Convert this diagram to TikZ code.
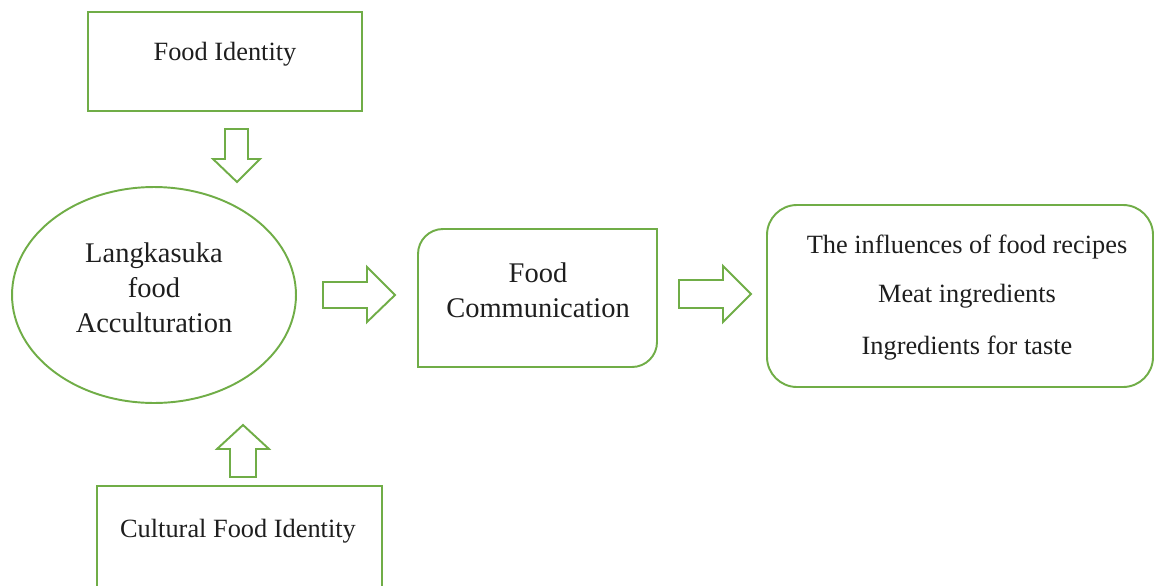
\documentclass[tikz,border=0pt]{standalone}
\usepackage{fontspec}
\setmainfont{Liberation Serif}
\usetikzlibrary{shapes.geometric}
\definecolor{boxgreen}{RGB}{112,173,71}
\definecolor{txt}{RGB}{30,30,30}
\tikzset{
  gline/.style={draw=boxgreen, line width=1.1pt},
  blockarrow/.style={draw=boxgreen, line width=1.1pt, line join=miter},
  lbl/.style={text=txt, inner sep=0pt, align=center},
  lblA/.style={lbl, font=\fontsize{15}{18}\selectfont},
  lblB/.style={lbl, font=\fontsize{16.2}{19.8}\selectfont},
}
\begin{document}
\begin{tikzpicture}[x=0.02cm, y=-0.02cm]
\useasboundingbox (0,0) rectangle (1155,585);
\clip (0,0) rectangle (1155,585);
% Food Identity
\node[gline, rectangle, minimum width=5.48cm, minimum height=1.98cm, inner sep=0pt] (fi) at (225,61.5) {};
\node[lblA] (fit) at (225,54) {Food Identity};
% down arrow
\draw[blockarrow] (225,129) -- (248,129) -- (248,159) -- (260,159) -- (237,182) -- (213,159) -- (225,159) -- cycle;
% Ellipse
\node[gline, ellipse, minimum width=5.68cm, minimum height=4.32cm, inner sep=0pt] (acc) at (154,295) {};
\node[lblB] (acct) at (154,288) {Langkasuka\\food\\Acculturation};
% right arrow 1
\draw[blockarrow] (323,282) -- (367,282) -- (367,267) -- (395,295) -- (367,322) -- (367,308) -- (323,308) -- cycle;
% Food Communication
\draw[gline] (418,367) -- (418,254) arc[start angle=180, end angle=270, radius=25] -- (657,229) -- (657,342) arc[start angle=0, end angle=90, radius=25] -- cycle;
\coordinate (fc) at (537.5,298);
\node[lblB] (fct) at (538,290) {Food\\Communication};
% right arrow 2
\draw[blockarrow] (679,280) -- (723,280) -- (723,266) -- (751,294) -- (723,322) -- (723,308) -- (679,308) -- cycle;
% Result box
\draw[gline, rounded corners=0.6cm] (767,205) rectangle (1153,387);
\node[lblA] (r1) at (967,247) {The influences of food recipes};
\node[lblA] (r2) at (967,296) {Meat ingredients};
\node[lblA] (r3) at (967,348) {Ingredients for taste};
% up arrow
\draw[blockarrow] (230,477) -- (230,449) -- (217,449) -- (243,425) -- (269,449) -- (256,449) -- (256,477) -- cycle;
% Cultural Food Identity
\draw[gline] (97,600) -- (97,486) -- (382,486) -- (382,600);
\node[lblA] (cfi) at (238,531) {Cultural Food Identity};
\end{tikzpicture}
\end{document}
